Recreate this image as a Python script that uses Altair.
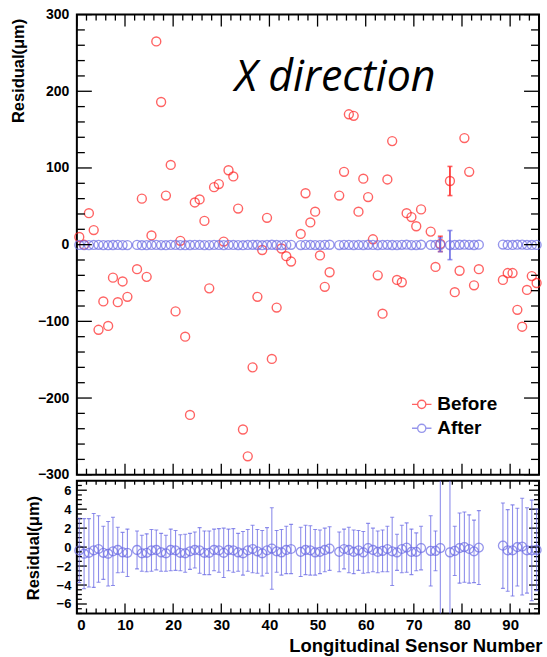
import altair as alt
import pandas as pd

# ---------------- data ----------------
sensor = [0.5, 1.5, 2.5, 3.5, 4.5, 5.5, 6.5, 7.5, 8.5, 9.5, 10.5,
          12.5, 13.5, 14.5, 15.5, 16.5, 17.5, 18.5, 19.5, 20.5, 21.5, 22.5,
          23.5, 24.5, 25.5, 26.5, 27.5, 28.5, 29.5, 30.5, 31.5, 32.5, 33.5,
          34.5, 35.5, 36.5, 37.5, 38.5, 39.5, 40.5, 41.5, 42.5, 43.5, 44.5,
          46.5, 47.5, 48.5, 49.5, 50.5, 51.5, 52.5,
          54.5, 55.5, 56.5, 57.5, 58.5, 59.5, 60.5, 61.5, 62.5, 63.5, 64.5,
          65.5, 66.5, 67.5, 68.5, 69.5, 70.5, 71.5,
          73.5, 74.5, 75.5,
          77.5, 78.5, 79.5, 80.5, 81.5, 82.5, 83.5,
          88.5, 89.5, 90.5, 91.5, 92.5, 93.5, 94.5, 95.5]

before = [10, 0, 41, 19, -111, -74, -106, -43, -75, -48, -68,
          -32, 60, -42, 12, 265, 186, 64, 104, -87, 5, -120,
          -222, 55, 59, 31, -57, 75, 79, 4, 97, 89, 47,
          -241, -276, -160, -68, -7, 35, -149, -82, -5, -15, -22,
          14, 67, 29, 43, -14, -55, -36,
          64, 95, 170, 168, 43, 86, 62, 7, -40, -90, 85,
          135, -46, -49, 41, 36, 24, 46,
          17, -29, 1,
          83, -62, -34, 139, 95, -53, -32,
          -46, -37, -37, -85, -107, -59, -41, -50]

before_err = [0, 0, 0, 0, 0, 0, 0, 0, 0, 0, 0,
              0, 0, 0, 0, 0, 0, 0, 0, 0, 0, 0,
              0, 0, 0, 0, 0, 0, 0, 0, 0, 0, 0,
              0, 0, 0, 0, 0, 0, 0, 0, 0, 0, 0,
              0, 0, 0, 0, 0, 0, 0,
              0, 0, 0, 0, 0, 0, 0, 0, 0, 0, 0,
              0, 0, 0, 0, 0, 0, 0,
              0, 0, 10,
              19, 0, 0, 0, 0, 0, 0,
              0, 0, 0, 0, 0, 0, 0, 0]

after = [-0.35, -0.7, -0.6, -0.35, -0.2, -0.6, -0.7, -0.45, -0.3, -0.55, -0.6,
         -0.3, -0.65, -0.6, -0.35, -0.3, -0.55, -0.65, -0.3, -0.35, -0.6, -0.65,
         -0.45, -0.3, -0.35, -0.6, -0.6, -0.3, -0.35, -0.6, -0.3, -0.35, -0.55,
         -0.65, -0.35, -0.2, -0.45, -0.65, -0.35, -0.15, -0.45, -0.55, -0.3, -0.2,
         -0.5, -0.3, -0.35, -0.55, -0.5, -0.3, -0.15,
         -0.5, -0.2, -0.3, -0.5, -0.35, -0.55, -0.1, -0.3, -0.5, -0.4, -0.2,
         -0.45, -0.55, -0.2, -0.05, -0.5, -0.5, -0.1,
         -0.4, -0.4, -0.1,
         -0.55, -0.4, -0.1, 0.0, -0.2, -0.45, -0.05,
         0.15, -0.35, -0.35, 0.0, 0.05, -0.35, -0.35, -0.3]

after_err = [3.4, 3.7, 3.6, 3.9, 3.5, 2.8, 3.4, 3.6, 2.4, 2.1, 2.5,
             2.0, 1.9, 2.0, 2.2, 2.1, 2.0, 1.9, 2.2, 2.1, 1.9, 2.0,
             1.9, 1.9, 2.4, 2.3, 2.3, 2.2, 2.3, 2.6, 2.2, 2.3, 2.0,
             2.3, 2.2, 2.5, 2.3, 2.4, 2.4, 4.3, 2.2, 2.4, 2.5, 2.6,
             2.6, 2.6, 2.6, 2.4, 2.3, 2.3, 2.3,
             2.1, 2.1, 2.4, 2.3, 2.1, 2.2, 2.6, 2.3, 2.2, 2.2, 2.4,
             3.6, 1.9, 2.5, 2.6, 2.4, 2.0, 2.3,
             3.7, 2.1, 9.0,
             19.0, 2.6, 3.7, 3.7, 3.6, 3.3, 3.9,
             4.5, 4.3, 4.8, 4.1, 5.1, 4.5, 5.3, 4.3]

series_names = ["Before", "After"]

# ---------------- styling ----------------
RED = "#ff2222"
BLUE = "#6a6ae4"
FONT = "Liberation Sans"
W, H1, H2 = 463, 461, 133
XDOM = [0, 96]
Y1DOM = [-300, 300]
Y2DOM = [-7, 7]

n = len(sensor)
long = pd.DataFrame({
    "sensor": sensor * 2,
    "series": ["Before"] * n + ["After"] * n,
    "value": before + after,
    "err": before_err + after_err,
})
long["lo"] = long["value"] - long["err"]
long["hi"] = long["value"] + long["err"]

after_df = pd.DataFrame({"sensor": sensor, "value": after, "err": after_err})
after_df["lo"] = after_df["value"] - after_df["err"]
after_df["hi"] = after_df["value"] + after_df["err"]

xs = alt.Scale(domain=XDOM, nice=False, zero=False)
y1s = alt.Scale(domain=Y1DOM, nice=False, zero=False)
y2s = alt.Scale(domain=Y2DOM, nice=False, zero=False)
cscale = alt.Scale(domain=series_names, range=[RED, BLUE])

x_major = [0, 10, 20, 30, 40, 50, 60, 70, 80, 90]
x_minor = [v for v in range(0, 97, 2) if v % 10 != 0]
y1_major = [-300, -200, -100, 0, 100, 200, 300]
y1_minor = [v for v in range(-300, 301, 20) if v % 100 != 0]
y2_major = [-6, -4, -2, 0, 2, 4, 6]
y2_minor = [v / 2 for v in range(-14, 15) if v % 4 != 0]

LEGEND_SYMBOL = ("M-1,0L-0.42,0M0.42,0L1,0"
                 "M-0.42,0A0.42,0.42,0,1,0,0.42,0A0.42,0.42,0,1,0,-0.42,0")

Y1AXIS = alt.Axis(values=y1_major, ticks=False, domain=False, grid=False,
                  labelFont=FONT, labelFontSize=14, labelFontWeight="bold",
                  labelColor="black", labelPadding=8, labelOverlap=False,
                  title="Residual(\u03bcm)", titleFont=FONT, titleFontSize=16.5,
                  titleFontWeight="bold", titleColor="black", titleAngle=270,
                  titleX=-58, titleY=56, titleAlign="center", titleBaseline="middle")
Y2AXIS = alt.Axis(values=y2_major, ticks=False, domain=False, grid=False,
                  labelFont=FONT, labelFontSize=13, labelFontWeight="bold",
                  labelColor="black", labelPadding=6, labelOverlap=False,
                  title="Residual(\u03bcm)", titleFont=FONT, titleFontSize=16.5,
                  titleFontWeight="bold", titleColor="black", titleAngle=270,
                  titleX=-43, titleY=67, titleAlign="center", titleBaseline="middle")
X2AXIS = alt.Axis(values=x_major, ticks=False, domain=False, grid=False,
                  labelFont=FONT, labelFontSize=15, labelFontWeight="bold",
                  labelColor="black", labelPadding=4, labelOverlap=False,
                  title="Longitudinal Sensor Number", titleFont=FONT,
                  titleFontSize=18.5, titleFontWeight="bold", titleColor="black",
                  titleX=466, titleY=38, titleAlign="right", titleBaseline="alphabetic")
LEGEND = alt.Legend(title=None, orient="none", legendX=335, legendY=380,
                    symbolType=LEGEND_SYMBOL, symbolSize=380,
                    symbolStrokeWidth=1.4, symbolFillColor="transparent",
                    labelFont=FONT, labelFontSize=19, labelFontWeight="bold",
                    labelColor="black", labelOffset=5, rowPadding=3, padding=0)


def yticks(values, length, scale, side, axis=None):
    d = pd.DataFrame({"v": values})
    if side == "left":
        xe = dict(x=alt.value(0), x2=alt.value(length))
    else:
        xe = dict(x=alt.value(W - length), x2=alt.value(W))
    if axis is None:
        yenc = alt.Y("v:Q", scale=scale)
    else:
        yenc = alt.Y("v:Q", scale=scale, axis=axis)
    return alt.Chart(d).mark_rule(color="black", strokeWidth=1.3).encode(y=yenc, **xe)


def xticks(values, length, h, side, axis_off):
    d = pd.DataFrame({"v": values})
    if side == "bottom":
        ye = dict(y=alt.value(h - length), y2=alt.value(h))
    else:
        ye = dict(y=alt.value(0), y2=alt.value(length))
    if axis_off:
        xenc = alt.X("v:Q", scale=xs, axis=None)
    else:
        xenc = alt.X("v:Q", scale=xs)
    return alt.Chart(d).mark_rule(color="black", strokeWidth=1.3).encode(x=xenc, **ye)


# ---------------- top panel ----------------
pts_top = alt.Chart(long).mark_point(shape="circle", filled=False, size=80,
                                     strokeWidth=1.4).encode(
    x=alt.X("sensor:Q", scale=xs, axis=None),
    y=alt.Y("value:Q", scale=y1s, axis=Y1AXIS),
    color=alt.Color("series:N", scale=cscale, legend=LEGEND),
)


def err_layers(series, color, scale):
    src = alt.Chart(long).transform_filter(
        (alt.datum.series == series) & (alt.datum.err >= 6))
    bar = src.mark_rule(strokeWidth=1.6, color=color).encode(
        x=alt.X("sensor:Q", scale=xs, axis=None),
        y=alt.Y("lo:Q", scale=scale), y2="hi:Q")
    lo = src.mark_tick(orient="horizontal", size=5, thickness=1.6, color=color).encode(
        x=alt.X("sensor:Q", scale=xs, axis=None), y=alt.Y("lo:Q", scale=scale))
    hi = src.mark_tick(orient="horizontal", size=5, thickness=1.6, color=color).encode(
        x=alt.X("sensor:Q", scale=xs, axis=None), y=alt.Y("hi:Q", scale=scale))
    return [bar, lo, hi]


label_text = alt.Chart(pd.DataFrame({"t": ["X direction"]})).mark_text(
    font="Open Sans", fontStyle="italic", fontSize=43, align="left",
    baseline="alphabetic", color="black").encode(
    x=alt.datum(32.8, scale=xs, axis=None), y=alt.datum(200, scale=y1s),
    text="t:N")

top = alt.layer(
    pts_top,
    yticks(y1_major, 15, y1s, "left"),
    yticks(y1_minor, 8, y1s, "left"),
    yticks(y1_major, 15, y1s, "right"),
    yticks(y1_minor, 8, y1s, "right"),
    xticks(x_major, 12, H1, "top", True),
    xticks(x_minor, 6, H1, "top", True),
    xticks(x_major, 11, H1, "bottom", True),
    xticks(x_minor, 6, H1, "bottom", True),
    *err_layers("Before", RED, y1s),
    *err_layers("After", BLUE, y1s),
    label_text,
).properties(width=W, height=H1)

# ---------------- bottom panel ----------------
base_bot = alt.Chart(after_df)
pts_bot = base_bot.mark_point(shape="circle", filled=False, size=80, strokeWidth=1.3,
                              color=BLUE).encode(
    x=alt.X("sensor:Q", scale=xs, axis=X2AXIS),
    y=alt.Y("value:Q", scale=y2s, axis=Y2AXIS),
)
err_bot = base_bot.mark_rule(color=BLUE, strokeWidth=1.1, opacity=0.75, clip=True).encode(
    x=alt.X("sensor:Q", scale=xs),
    y=alt.Y("lo:Q", scale=y2s, axis=Y2AXIS),
    y2="hi:Q",
)
cap_bot_lo = base_bot.mark_tick(orient="horizontal", size=4, thickness=1.1, color=BLUE,
                                opacity=0.75, clip=True).encode(
    x=alt.X("sensor:Q", scale=xs), y=alt.Y("lo:Q", scale=y2s, axis=Y2AXIS))
cap_bot_hi = base_bot.mark_tick(orient="horizontal", size=4, thickness=1.1, color=BLUE,
                                opacity=0.75, clip=True).encode(
    x=alt.X("sensor:Q", scale=xs), y=alt.Y("hi:Q", scale=y2s, axis=Y2AXIS))

bottom = alt.layer(
    pts_bot,
    yticks(y2_major, 10, y2s, "left", Y2AXIS),
    yticks(y2_minor, 5, y2s, "left", Y2AXIS),
    yticks(y2_major, 10, y2s, "right", Y2AXIS),
    yticks(y2_minor, 5, y2s, "right", Y2AXIS),
    xticks(x_major, 8, H2, "top", False),
    xticks(x_minor, 4, H2, "top", False),
    xticks(x_major, 10, H2, "bottom", False),
    xticks(x_minor, 5, H2, "bottom", False),
    err_bot, cap_bot_lo, cap_bot_hi,
).properties(width=W, height=H2)

chart = alt.vconcat(top, bottom, spacing=6, bounds="flush").properties(
    padding={"left": 10, "top": 6, "right": 2, "bottom": 2},
    background="white",
).configure_view(stroke="black", strokeWidth=2).configure_axis(labelOverlap=False)

chart.save("out.html", embed_options={"renderer": "svg", "actions": False})
